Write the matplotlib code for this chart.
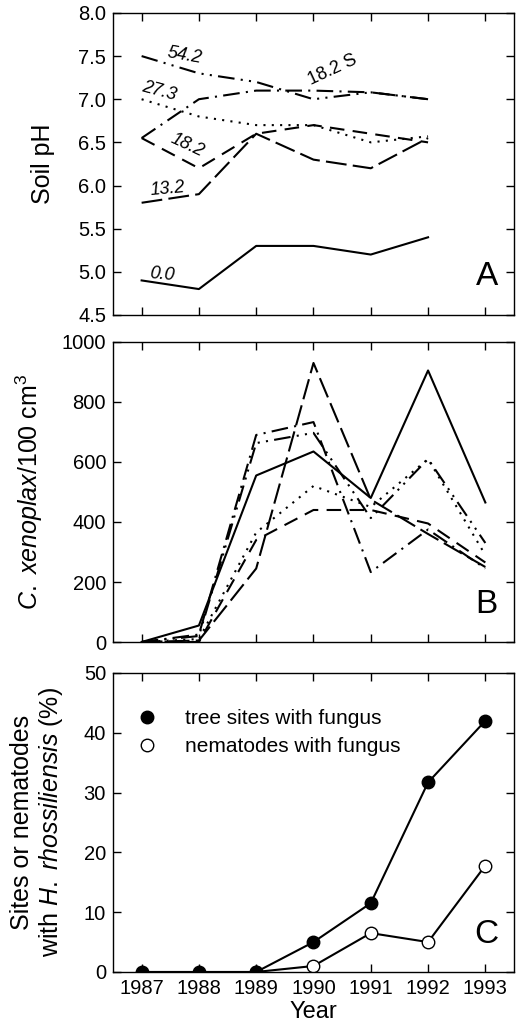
import matplotlib
matplotlib.use('Agg')
import matplotlib.pyplot as plt
from matplotlib.lines import Line2D

plt.rcParams['font.family'] = ['Liberation Sans', 'DejaVu Sans']
plt.rcParams['mathtext.fontset'] = 'custom'
plt.rcParams['mathtext.rm'] = 'Liberation Sans'
plt.rcParams['mathtext.it'] = 'Liberation Sans:italic'

# years
years_ph = [1987, 1988, 1989, 1990, 1991, 1992]
years = [1987, 1988, 1989, 1990, 1991, 1992, 1993]

# panel A: soil pH per site
ph_00 = [4.9, 4.8, 5.3, 5.3, 5.2, 5.4]
ph_132 = [5.8, 5.9, 6.6, 6.3, 6.2, 6.55]
ph_182 = [6.55, 6.2, 6.6, 6.7, 6.6, 6.5]
ph_273 = [7.0, 6.8, 6.7, 6.7, 6.5, 6.57]
ph_542 = [7.5, 7.3, 7.2, 7.0, 7.08, 7.0]
ph_182s = [6.55, 7.0, 7.1, 7.1, 7.08, 7.0]

# panel B: C. xenoplax per 100 cm3
cx_00 = [0, 55, 555, 635, 480, 905, 465]
cx_132 = [0, 5, 245, 930, 475, 360, 250]
cx_182 = [0, 0, 340, 440, 440, 395, 265]
cx_273 = [0, 10, 365, 520, 450, 610, 290]
cx_542 = [0, 20, 663, 697, 413, 610, 330]
cx_182s = [0, 25, 690, 733, 233, 375, 245]

# panel C: percentages with fungus
tree_sites = [0, 0, 0, 5, 11.5, 31.7, 42]
nema_years = [1989, 1990, 1991, 1992, 1993]
nematodes = [0, 1, 6.5, 5, 17.8]

styles = {
    '0.0': '-',
    '13.2': (0, (10, 3)),
    '18.2': (0, (7, 4)),
    '27.3': (0, (1, 3)),
    '54.2': (0, (8, 3, 1, 3, 1, 3)),
    '18.2 S': (0, (8, 3, 1, 3)),
}

fig = plt.figure(figsize=(5.24, 10.35), dpi=100)
left, width = 0.2156, 0.7653
axA = fig.add_axes([left, 0.6957, width, 0.2918])
axB = fig.add_axes([left, 0.3797, width, 0.2899])
axC = fig.add_axes([left, 0.0609, width, 0.2889])

lw = 1.5
ph_series = [('0.0', ph_00), ('13.2', ph_132), ('18.2', ph_182),
             ('27.3', ph_273), ('54.2', ph_542), ('18.2 S', ph_182s)]
for name, vals in ph_series:
    axA.plot(years_ph, vals, color='black', linestyle=styles[name], linewidth=lw)

# site labels
lab_kw = dict(fontsize=13, style='italic', ha='center', va='center')
axA.text(1987.75, 7.5, '54.2', rotation=-10, **lab_kw)
axA.text(1987.31, 7.09, '27.3', rotation=-15, **lab_kw)
axA.text(1987.8, 6.47, '18.2', rotation=-25, **lab_kw)
axA.text(1987.45, 5.96, '13.2', rotation=5, **lab_kw)
axA.text(1987.35, 4.97, '0.0', rotation=-5, **lab_kw)
axA.text(1990.33, 7.34, '18.2 S', fontsize=13, ha='center', va='center', rotation=25)

axA.set_ylim(4.5, 8.0)
axA.set_yticks([4.5, 5.0, 5.5, 6.0, 6.5, 7.0, 7.5, 8.0])
axA.set_yticklabels(['4.5', '5.0', '5.5', '6.0', '6.5', '7.0', '7.5', '8.0'])
axA.set_ylabel('Soil pH', fontsize=18)

cx_series = [('0.0', cx_00), ('13.2', cx_132), ('18.2', cx_182),
             ('27.3', cx_273), ('54.2', cx_542), ('18.2 S', cx_182s)]
for name, vals in cx_series:
    axB.plot(years, vals, color='black', linestyle=styles[name], linewidth=lw)
axB.set_ylim(0, 1000)
axB.set_yticks([0, 200, 400, 600, 800, 1000])
axB.set_ylabel(r'$\it{C.\ xenoplax}$/100 cm$^3$', fontsize=18)

axC.plot(years, tree_sites, color='black', linewidth=lw, marker='o', markersize=9,
         markerfacecolor='black', markeredgecolor='black', zorder=3)
axC.plot(nema_years, nematodes, color='black', linewidth=lw, marker='o', markersize=9,
         markerfacecolor='white', markeredgecolor='black', zorder=2)
axC.set_ylim(0, 50)
axC.set_yticks([0, 10, 20, 30, 40, 50])
axC.set_ylabel('Sites or nematodes\nwith $\\it{H.\\ rhossiliensis}$ (%)', fontsize=18,
               linespacing=1.15)
axC.set_xlabel('Year', fontsize=17, labelpad=2)

handles = [
    Line2D([], [], linestyle='none', marker='o', markersize=9, color='black',
           markerfacecolor='black'),
    Line2D([], [], linestyle='none', marker='o', markersize=9, color='black',
           markerfacecolor='white'),
]
axC.legend(handles, ['tree sites with fungus', 'nematodes with fungus'],
           loc='upper left', bbox_to_anchor=(0.059, 0.88), frameon=False,
           fontsize=15, handlelength=1.0, handletextpad=1.3, borderpad=0,
           borderaxespad=0, labelspacing=0.45)

for ax, letter in ((axA, 'A'), (axB, 'B'), (axC, 'C')):
    ax.text(0.96, 0.075, letter, transform=ax.transAxes, fontsize=24,
            ha='right', va='bottom')
    ax.set_xlim(1986.5, 1993.5)
    ax.set_xticks(years)
    ax.tick_params(direction='in', top=True, right=True, labelsize=14.5, length=6,
                   width=1, pad=5)
    for sp in ax.spines.values():
        sp.set_linewidth(1.0)
axA.set_xticklabels([])
axB.set_xticklabels([])

axA.yaxis.set_label_coords(-0.145, 0.5)
axB.yaxis.set_label_coords(-0.17, 0.5)
axC.yaxis.set_label_coords(-0.12, 0.5)

fig.savefig('out.png', dpi=100)
